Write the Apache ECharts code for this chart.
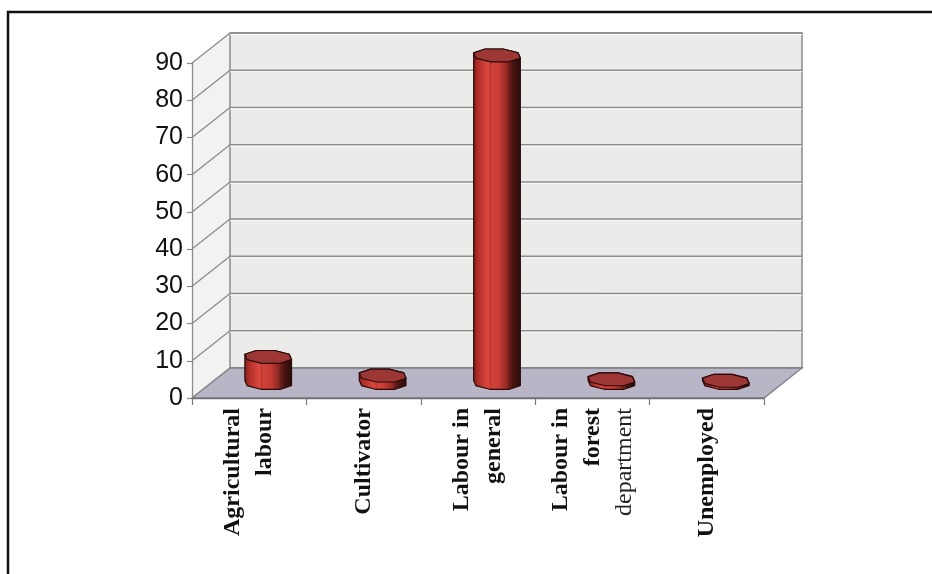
<!DOCTYPE html>
<html><head><meta charset="utf-8">
<script src="https://cdn.jsdelivr.net/npm/echarts@6/dist/echarts.min.js"></script>
<style>html,body{margin:0;padding:0;background:#fff;}#c{width:932px;height:574px;}</style>
</head><body><div id="c"></div>
<script>
// ---- data ----
const categories = ['Agricultural\nlabour', 'Cultivator', 'Labour in\ngeneral', 'Labour in\nforest\ndepartment', 'Unemployed'];
const values = [7, 2, 88, 1, 0.6];
const yMin = 0, yMax = 90, yStep = 10;
const yTicks = [0, 10, 20, 30, 40, 50, 60, 70, 80, 90];

// ---- style constants ----
const DX = 38, DY = -30;       // depth offset of the back wall
const RX = 24, RY = 7, SK = 3; // bar cross-section
const ANG = [0,1,2,3,4,5,6,7].map(k => (k * 45 + 22.5) * Math.PI / 180);

function hull(points) {
  const p = points.slice().sort((a, b) => a[0] - b[0] || a[1] - b[1]);
  const cross = (o, a, b) => (a[0]-o[0])*(b[1]-o[1]) - (a[1]-o[1])*(b[0]-o[0]);
  const lo = [], up = [];
  for (const q of p) { while (lo.length >= 2 && cross(lo[lo.length-2], lo[lo.length-1], q) <= 0) lo.pop(); lo.push(q); }
  for (let i = p.length - 1; i >= 0; i--) { const q = p[i]; while (up.length >= 2 && cross(up[up.length-2], up[up.length-1], q) <= 0) up.pop(); up.push(q); }
  up.pop(); lo.pop();
  return lo.concat(up);
}
function oct(cx, cy) {
  return ANG.map(a => [cx + RX * Math.cos(a) + SK * Math.sin(a), cy + RY * Math.sin(a)]);
}

function renderBox(params, api) {
  const cs = params.coordSys;
  const L = cs.x, R = cs.x + cs.width;
  const y0 = api.coord([0, yMin])[1];
  const yT = api.coord([0, yMax])[1];
  const ch = [];
  ch.push({type: 'polygon', shape: {points: [[L, yT], [L + DX, yT + DY], [L + DX, y0 + DY], [L, y0]]},
    style: {fill: '#f2f2f0', stroke: null}});
  ch.push({type: 'polygon', shape: {points: [[L + DX, yT + DY], [R + DX, yT + DY], [R + DX, y0 + DY], [L + DX, y0 + DY]]},
    style: {fill: '#ebebe9', stroke: '#8a8a8a', lineWidth: 1.5}});
  ch.push({type: 'polygon', shape: {points: [[L, y0], [R, y0], [R + DX, y0 + DY], [L + DX, y0 + DY]]},
    style: {fill: '#b8b5c7', stroke: '#7d7d84', lineWidth: 1.3}});
  for (const t of yTicks) {
    if (t === yMin) continue;
    const y = api.coord([0, t])[1];
    ch.push({type: 'line', shape: {x1: L + DX, y1: y + DY, x2: R + DX, y2: y + DY}, style: {stroke: '#8c8c8c', lineWidth: 1.5}});
    ch.push({type: 'line', shape: {x1: L + DX, y1: y + DY + 1.5, x2: R + DX, y2: y + DY + 1.5}, style: {stroke: '#fafafa', lineWidth: 1}});
    ch.push({type: 'line', shape: {x1: L, y1: y, x2: L + DX, y2: y + DY}, style: {stroke: '#8c8c8c', lineWidth: 1.3}});
  }
  ch.push({type: 'line', shape: {x1: L, y1: y0, x2: L + DX, y2: y0 + DY}, style: {stroke: '#8c8c8c', lineWidth: 1.3}});
  return {type: 'group', children: ch};
}

function renderBar(params, api) {
  const i = api.value(0), v = api.value(1);
  const base = api.coord([i, 0]);
  const top = api.coord([i, v]);
  const cx = base[0] + DX / 2;
  const cyB = base[1] + DY / 2;
  const cyT = top[1] + DY / 2;
  const topPts = oct(cx, cyT), botPts = oct(cx, cyB);
  const body = hull(topPts.concat(botPts));
  const ch = [];
  ch.push({type: 'polygon', shape: {points: body},
    style: {
      fill: {type: 'linear', x: 0, y: 0, x2: 1, y2: 0, colorStops: [
        {offset: 0, color: '#7a1c19'}, {offset: 0.1, color: '#b02e28'}, {offset: 0.3, color: '#d8463d'},
        {offset: 0.55, color: '#c53b34'}, {offset: 0.72, color: '#8e2723'}, {offset: 0.82, color: '#4c1614'},
        {offset: 1, color: '#2c0b0a'}]},
      stroke: '#2a0a0a', lineWidth: 1.2
    }});
  for (const k of [1, 2]) {
    const x = botPts[k][0];
    ch.push({type: 'line', shape: {x1: x, y1: topPts[k][1], x2: x, y2: botPts[k][1]},
      style: {stroke: 'rgba(60,10,10,0.25)', lineWidth: 1}});
  }
  ch.push({type: 'polygon', shape: {points: topPts},
    style: {fill: '#9c3736', stroke: '#2a0a0a', lineWidth: 1.2}});
  return {type: 'group', children: ch};
}

const chart = echarts.init(document.getElementById('c'), null, {renderer: 'canvas'});
chart.setOption({
  animation: false,
  backgroundColor: '#ffffff',
  graphic: [{
    type: 'polyline', z: 100,
    shape: {points: [[8, 574], [8, 12], [932, 12]]},
    style: {stroke: '#111', lineWidth: 2.5, fill: null}
  }],
  grid: {left: 192, right: 168, top: 63, bottom: 176, containLabel: false},
  xAxis: {
    type: 'category', data: categories, boundaryGap: true, z: 10,
    axisLine: {show: true, lineStyle: {color: '#6f6f75', width: 1.3}},
    axisTick: {show: true, length: 7, interval: 0, lineStyle: {color: '#777', width: 1.2}},
    axisLabel: {
      interval: 0, rotate: 90, margin: 10, color: '#111',
      fontFamily: 'Liberation Serif', fontWeight: 'bold', fontSize: 24, lineHeight: 32,
      formatter: function (v) {
        return v.split('\n').map(l => l === 'department' ? '{n|' + l + '}' : '{b|' + l + '}').join('\n');
      },
      rich: {
        b: {fontFamily: 'Liberation Serif', fontWeight: 'bold', fontSize: 24, lineHeight: 32, color: '#111', align: 'right'},
        n: {fontFamily: 'Liberation Serif', fontWeight: 'normal', fontSize: 24, lineHeight: 32, color: '#222', align: 'right'}
      }
    },
    splitLine: {show: false}
  },
  yAxis: {
    type: 'value', min: yMin, max: yMax, interval: yStep, z: 10,
    axisLine: {show: true, lineStyle: {color: '#8a8a8a', width: 1.3}},
    axisTick: {show: true, length: 5, lineStyle: {color: '#8a8a8a', width: 1.2}},
    axisLabel: {margin: 9, color: '#111', fontFamily: 'Liberation Sans', fontSize: 25,
      formatter: v => yTicks.indexOf(v) >= 0 ? String(v) : ''},
    splitLine: {show: false}
  },
  series: [
    {type: 'custom', z: 1, silent: true, renderItem: renderBox, data: [[0, 0]], clip: false},
    {type: 'custom', z: 3, silent: true, renderItem: renderBar, clip: false,
      data: values.map((v, i) => [i, v])}
  ]
});
</script>
</body></html>
